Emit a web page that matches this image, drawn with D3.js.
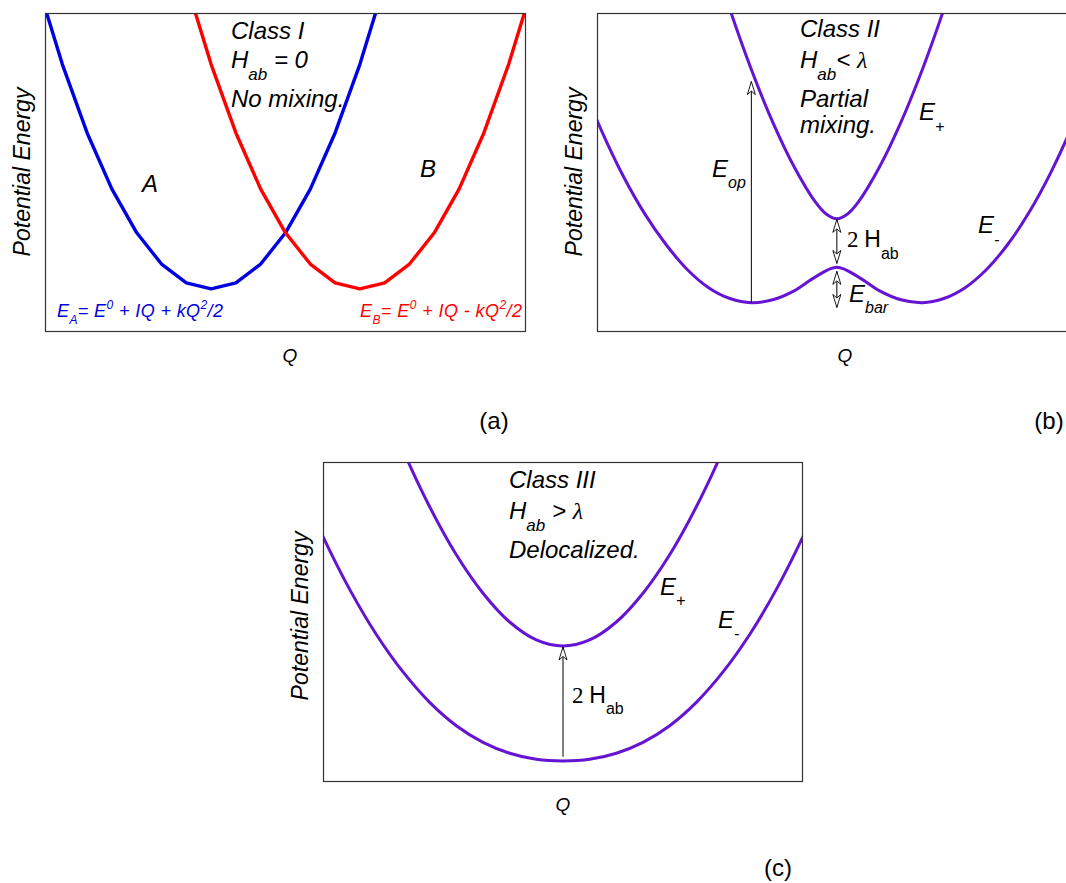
<!DOCTYPE html>
<html><head><meta charset="utf-8">
<script src="https://cdn.jsdelivr.net/npm/d3@7"></script>
<style>
body{margin:0;background:#fff}
text{font-family:"Liberation Sans",Arial,sans-serif;white-space:pre}
</style>
</head><body>
<svg id="chart" width="1066" height="883"></svg>
<script>
// ---------- DATA ----------
// Panel (a): diabatic parabolas (polylines)
const blueQ = [-10,-9,-8,-7,-6,-5,-4,-3,-2,-1,0,1,2,3,4];
const blueE = [10.93,8.39,6.24,4.48,3.11,2.13,1.54,1.35,1.54,2.13,3.11,4.48,6.24,8.39,10.93];
const redQ  = [-4,-3,-2,-1,0,1,2,3,4,5,6,7,8,9,10];
const redE  = [10.93,8.39,6.24,4.48,3.11,2.13,1.54,1.35,1.54,2.13,3.11,4.48,6.24,8.39,10.93];

// Panel (b): Class II adiabatic surfaces
const lowerQb = [-3,-2.75,-2.5,-2.25,-2,-1.75,-1.5,-1.25,-1,-0.75,-0.5,-0.25,0,0.25,0.5,0.75,1,1.25,1.5,1.75,2,2.25,2.5,2.75,3];
const lowerEb = [7.90,6.30,4.90,3.72,2.75,1.96,1.39,1.05,0.92,1.01,1.29,1.73,2.03,1.73,1.29,1.01,0.92,1.05,1.39,1.96,2.75,3.76,4.99,6.44,8.12];
const upperQb = [-1.5,-1.25,-1,-0.75,-0.5,-0.25,-0.125,0,0.125,0.25,0.5,0.75,1,1.25,1.5];
const upperEb = [12.22,10.11,8.23,6.58,5.18,4.07,3.70,3.55,3.70,4.07,5.18,6.58,8.23,10.11,12.22];

// Panel (c): Class III adiabatic surfaces
const lowerQc = [-5,-4.5,-4,-3.5,-3,-2.5,-2,-1.5,-1,-0.5,0,0.5,1,1.5,2,2.5,3,3.5,4,4.5,5];
const lowerEc = [9.56,7.67,6.02,4.61,3.44,2.49,1.76,1.24,0.90,0.71,0.66,0.71,0.90,1.24,1.76,2.49,3.44,4.61,6.02,7.67,9.56];
const upperQc = [-3.5,-3,-2.5,-2,-1.5,-1,-0.5,0,0.5,1,1.5,2,2.5,3,3.5];
const upperEc = [12.41,10.37,8.60,7.10,5.90,5.00,4.44,4.25,4.44,5.00,5.90,7.10,8.60,10.37,12.41];

// Annotation arrows (Q, E from, E to)
const arrowQb    = [-1, 0, 0];
const arrowFromB = [0.92, 2.15, 0.77];
const arrowToB   = [7.85, 3.53, 1.90];
const arrowBothB = [false, true, true];
const arrowQc    = [0];
const arrowFromC = [0.79];
const arrowToC   = [4.22];
const arrowBothC = [false];

// ---------- DRAW ----------
const svg = d3.select('#chart');
svg.append('rect').attr('width',1066).attr('height',883).attr('fill','#fff');

const PURPLE = '#6414d2';
const SERIF = '"Liberation Serif","Times New Roman",serif';

function panel(id, box, qDomain) {
  const g = svg.append('g');
  const x = d3.scaleLinear().domain(qDomain).range([box.left, box.right]);
  const y = d3.scaleLinear().domain([0,10]).range([box.bottom, box.top]);
  svg.append('clipPath').attr('id', id).append('rect')
    .attr('x', box.left).attr('y', box.top)
    .attr('width', box.right-box.left).attr('height', box.bottom-box.top);
  const plot = g.append('g').attr('clip-path', `url(#${id})`);
  g.append('rect').attr('x', box.left+0.5).attr('y', box.top+0.5)
    .attr('width', box.right-box.left-1).attr('height', box.bottom-box.top-1)
    .attr('fill','none').attr('stroke','#333').attr('stroke-width',1.2);
  return {g, plot, x, y, box};
}

function curve(p, Q, E, color, width, smooth) {
  const line = d3.line().x(d=>p.x(d[0])).y(d=>p.y(d[1]))
    .curve(smooth ? d3.curveCatmullRom.alpha(0.5) : d3.curveLinear);
  p.plot.append('path').datum(d3.zip(Q,E)).attr('d', line)
    .attr('fill','none').attr('stroke',color).attr('stroke-width',width)
    .attr('stroke-linejoin','round');
}

function rich(g, x, y, parts, o={}) {
  const t = g.append('text').attr('x', x).attr('y', y)
    .attr('fill', o.fill || '#000')
    .attr('text-anchor', o.anchor || 'start')
    .style('font-style', o.italic === false ? 'normal' : 'italic')
    .style('font-size', (o.size || 24) + 'px');
  parts.forEach(pt => {
    const ts = t.append('tspan').attr('y', y + (pt.dy || 0)).text(pt.t);
    if (pt.size) ts.style('font-size', pt.size + 'px');
    if (pt.family) ts.style('font-family', pt.family);
  });
  if (o.len) t.attr('textLength', o.len).attr('lengthAdjust', 'spacing');
  return t;
}

function head(g, x, y, dir) { // dir = -1 points up, +1 points down
  const L = 13, W = 4, n = 9.5;
  g.append('path')
    .attr('d', `M${x},${y}L${x+W},${y-dir*L}L${x},${y-dir*n}L${x-W},${y-dir*L}Z`)
    .attr('fill','#fff').attr('stroke','#000').attr('stroke-width',0.9)
    .attr('stroke-linejoin','miter');
}

function arrows(p, Q, F, T, B) {
  Q.forEach((q,i) => {
    const x = p.x(q), y0 = p.y(F[i]), y1 = p.y(T[i]);
    p.g.append('line').attr('x1',x).attr('x2',x).attr('y1',y0).attr('y2',y1)
      .attr('stroke','#000').attr('stroke-width',1);
    const dir = y1 < y0 ? -1 : 1;
    head(p.g, x, y1, dir);
    if (B[i]) head(p.g, x, y0, -dir);
  });
}

function axisLabels(p, qx, qy, peX, peY) {
  rich(p.g, qx, qy, [{t:'Q'}], {size:19, anchor:'middle'});
  p.g.append('text').attr('transform', `translate(${peX},${peY}) rotate(-90)`)
    .attr('text-anchor','middle').style('font-style','italic').style('font-size','23px')
    .text('Potential Energy');
}

// Panel (a)
const pa = panel('clipA', {left:45, right:526, top:13, bottom:332}, [-9.7, 9.7]);
curve(pa, blueQ, blueE, '#0000e0', 3.4, false);
curve(pa, redQ, redE, '#ff0000', 3.4, false);
rich(pa.g, 231, 39, [{t:'Class I'}]);
rich(pa.g, 231, 68, [{t:'H'},{t:'ab', size:17, dy:12},{t:' = 0'}]);
rich(pa.g, 231, 107, [{t:'No mixing.'}]);
rich(pa.g, 142, 192, [{t:'A'}]);
rich(pa.g, 420, 177, [{t:'B'}]);
rich(pa.g, 57, 317, [{t:'E'},{t:'A', size:12, dy:7},{t:'= E'},{t:'0', size:12, dy:-8},
  {t:' + IQ + kQ'},{t:'2', size:12, dy:-8},{t:'/2'}], {size:18, fill:'#0000e0', len:166});
rich(pa.g, 360, 317, [{t:'E'},{t:'B', size:12, dy:7},{t:'= E'},{t:'0', size:12, dy:-8},
  {t:' + IQ - kQ'},{t:'2', size:12, dy:-8},{t:'/2'}], {size:18, fill:'#ff0000', len:162});
axisLabels(pa, 290, 362, 30, 172);
rich(svg, 494, 429, [{t:'(a)'}], {italic:false, anchor:'middle', size:24});

// Panel (b)
const pb = panel('clipB', {left:597, right:1078, top:13, bottom:332}, [-2.805, 2.82]);
curve(pb, lowerQb, lowerEb, PURPLE, 3, true);
curve(pb, upperQb, upperEb, PURPLE, 3, true);
arrows(pb, arrowQb, arrowFromB, arrowToB, arrowBothB);
rich(pb.g, 800, 37, [{t:'Class II'}]);
rich(pb.g, 800, 68, [{t:'H'},{t:'ab', size:17, dy:12},{t:'< '},{t:'λ', family:SERIF}]);
rich(pb.g, 800, 107, [{t:'Partial'}]);
rich(pb.g, 800, 133, [{t:'mixing.'}]);
rich(pb.g, 919, 120, [{t:'E'},{t:'+', size:16, dy:12}]);
rich(pb.g, 978, 233, [{t:'E'},{t:'-', size:16, dy:12}]);
rich(pb.g, 712, 177, [{t:'E'},{t:'op', size:16, dy:11}]);
rich(pb.g, 847, 247, [{t:'2 ', family:SERIF},{t:'H'},{t:'ab', size:16, dy:12}], {italic:false, size:23});
rich(pb.g, 849, 302, [{t:'E'},{t:'bar', size:16, dy:11}]);
axisLabels(pb, 845, 362, 582, 172);
rich(svg, 1049, 429, [{t:'(b)'}], {italic:false, anchor:'middle', size:24});

// Panel (c)
const pc = panel('clipC', {left:323, right:803, top:462, bottom:782}, [-4.5, 4.5]);
curve(pc, lowerQc, lowerEc, PURPLE, 3, true);
curve(pc, upperQc, upperEc, PURPLE, 3, true);
arrows(pc, arrowQc, arrowFromC, arrowToC, arrowBothC);
rich(pc.g, 509, 488, [{t:'Class III'}]);
rich(pc.g, 509, 519, [{t:'H'},{t:'ab', size:17, dy:12},{t:' > '},{t:'λ', family:SERIF}]);
rich(pc.g, 509, 558, [{t:'Delocalized.'}]);
rich(pc.g, 660, 595, [{t:'E'},{t:'+', size:16, dy:11}]);
rich(pc.g, 718, 628, [{t:'E'},{t:'-', size:16, dy:11}]);
rich(pc.g, 572, 703, [{t:'2 ', family:SERIF},{t:'H'},{t:'ab', size:16, dy:11}], {italic:false, size:23});
axisLabels(pc, 563, 811, 308, 616);
rich(svg, 778, 876, [{t:'(c)'}], {italic:false, anchor:'middle', size:24});
</script>
</body></html>
